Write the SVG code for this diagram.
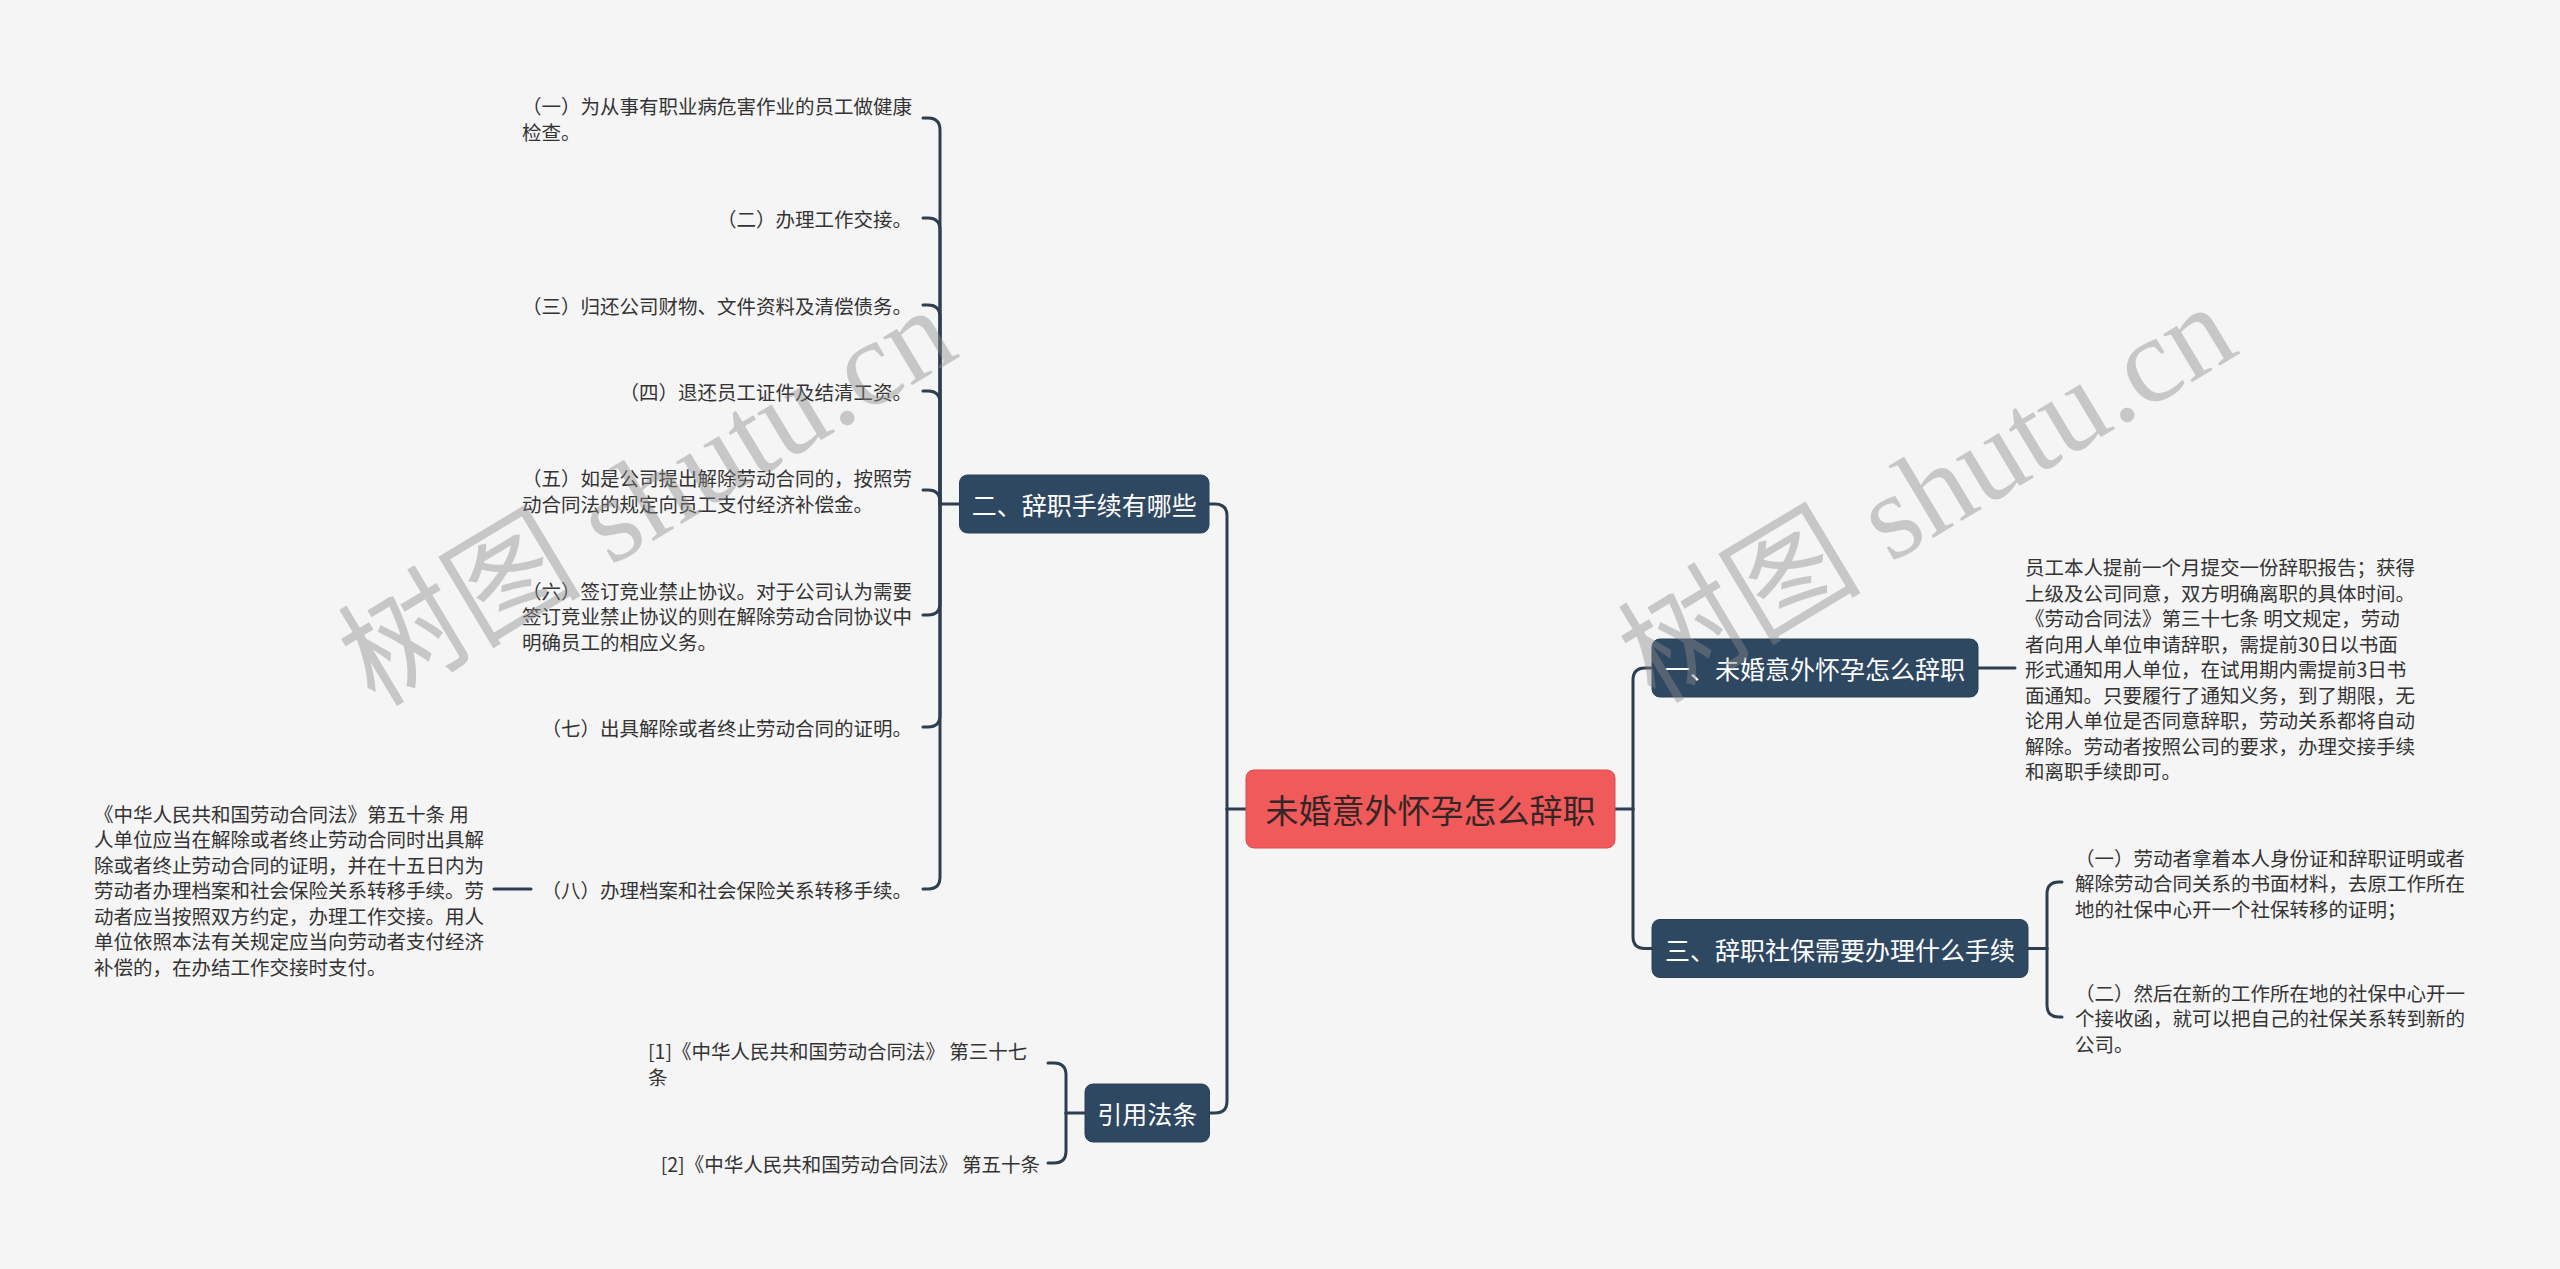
<svg xmlns="http://www.w3.org/2000/svg" width="2560" height="1269" viewBox="0 0 2560 1269">
<defs>
<style>
text{font-family:"Noto Sans CJK SC","Noto Sans",sans-serif;}
.conn{fill:none;stroke:#2c3e50;stroke-width:3;stroke-linecap:round;}
.box{fill:#2f4862;stroke:#2a4057;stroke-width:1;}
.ntext{fill:#ffffff;font-size:25px;text-anchor:middle;dominant-baseline:central;}
.leaf{fill:#333333;font-size:19.5px;dominant-baseline:central;}
.end{text-anchor:end;}
.wm{font-family:"Liberation Serif","Noto Sans CJK SC",serif;font-size:122px;fill:#8a8a8a;opacity:0.42;}
</style>
</defs>
<rect x="0" y="0" width="2560" height="1269" fill="#f5f5f5"/>

<g id="connectors">
<path class="conn" d="M1246,809 H1227"/>
<path class="conn" d="M1227,809 V516 Q1227,504 1215,504 H1209"/>
<path class="conn" d="M1227,809 V1101 Q1227,1113 1215,1113 H1209"/>
<path class="conn" d="M1615,809 H1633"/>
<path class="conn" d="M1633,809 V680 Q1633,668 1645,668 H1652"/>
<path class="conn" d="M1633,809 V936.5 Q1633,948.5 1645,948.5 H1652"/>
<path class="conn" d="M959.5,504 H940"/>
<path class="conn" d="M940,504 V130 Q940,118 928,118 H923"/>
<path class="conn" d="M940,504 V230 Q940,218 928,218 H923"/>
<path class="conn" d="M940,504 V317 Q940,305 928,305 H923"/>
<path class="conn" d="M940,504 V403 Q940,391 928,391 H923"/>
<path class="conn" d="M940,504 V502 Q940,490 928,490 H923"/>
<path class="conn" d="M940,504 V603 Q940,615 928,615 H923"/>
<path class="conn" d="M940,504 V715 Q940,727 928,727 H923"/>
<path class="conn" d="M940,504 V877 Q940,889 928,889 H923"/>
<path class="conn" d="M531,889 H494"/>
<path class="conn" d="M1085,1113 H1066"/>
<path class="conn" d="M1066,1113 V1075 Q1066,1063 1054,1063 H1048"/>
<path class="conn" d="M1066,1113 V1151 Q1066,1163 1054,1163 H1048"/>
<path class="conn" d="M1978,668 H2015"/>
<path class="conn" d="M2028,948.5 H2047"/>
<path class="conn" d="M2047,948.5 V894 Q2047,882 2059,882 H2062"/>
<path class="conn" d="M2047,948.5 V1005 Q2047,1017 2059,1017 H2062"/>
</g>

<g id="root">
<rect x="1246" y="770" width="369" height="78" rx="8" fill="#f05a5b" stroke="#dc4b4d" stroke-width="1"/>
<text x="1430.5" y="809" font-size="33" fill="#352626" text-anchor="middle" dominant-baseline="central">未婚意外怀孕怎么辞职</text>
</g>

<g id="n2">
<rect class="box" x="959.5" y="475" width="249.5" height="58" rx="8"/>
<text class="ntext" x="1084.25" y="504">二、辞职手续有哪些</text>
</g>
<g id="n4">
<rect class="box" x="1085" y="1084" width="124.5" height="58" rx="8"/>
<text class="ntext" x="1147.25" y="1113">引用法条</text>
</g>
<g id="n1">
<rect class="box" x="1652" y="639" width="326" height="58" rx="8"/>
<text class="ntext" x="1815" y="668">一、未婚意外怀孕怎么辞职</text>
</g>
<g id="n3">
<rect class="box" x="1652" y="919.5" width="376" height="58" rx="8"/>
<text class="ntext" x="1840" y="948.5">三、辞职社保需要办理什么手续</text>
</g>

<g id="n2-1"><text class="leaf" x="522"><tspan x="522" y="105.25">（一）为从事有职业病危害作业的员工做健康</tspan><tspan x="522" y="130.75">检查。</tspan></text></g>
<g id="n2-2"><text class="leaf end" x="912" y="218">（二）办理工作交接。</text></g>
<g id="n2-3"><text class="leaf end" x="912" y="305">（三）归还公司财物、文件资料及清偿债务。</text></g>
<g id="n2-4"><text class="leaf end" x="912" y="391">（四）退还员工证件及结清工资。</text></g>
<g id="n2-5"><text class="leaf" x="522"><tspan x="522" y="477.25">（五）如是公司提出解除劳动合同的，按照劳</tspan><tspan x="522" y="502.75">动合同法的规定向员工支付经济补偿金。</tspan></text></g>
<g id="n2-6"><text class="leaf" x="522"><tspan x="522" y="589.5">（六）签订竞业禁止协议。对于公司认为需要</tspan><tspan x="522" y="615">签订竞业禁止协议的则在解除劳动合同协议中</tspan><tspan x="522" y="640.5">明确员工的相应义务。</tspan></text></g>
<g id="n2-7"><text class="leaf end" x="912" y="727">（七）出具解除或者终止劳动合同的证明。</text></g>
<g id="n2-8"><text class="leaf end" x="912" y="889">（八）办理档案和社会保险关系转移手续。</text></g>
<g id="n2-8-1"><text class="leaf" x="94">
<tspan x="94" y="812.5">《中华人民共和国劳动合同法》第五十条 用</tspan>
<tspan x="94" y="838">人单位应当在解除或者终止劳动合同时出具解</tspan>
<tspan x="94" y="863.5">除或者终止劳动合同的证明，并在十五日内为</tspan>
<tspan x="94" y="889">劳动者办理档案和社会保险关系转移手续。劳</tspan>
<tspan x="94" y="914.5">动者应当按照双方约定，办理工作交接。用人</tspan>
<tspan x="94" y="940">单位依照本法有关规定应当向劳动者支付经济</tspan>
<tspan x="94" y="965.5">补偿的，在办结工作交接时支付。</tspan>
</text></g>

<g id="n4-1"><text class="leaf" x="648"><tspan x="648" y="1050.25">[1]《中华人民共和国劳动合同法》 第三十七</tspan><tspan x="648" y="1075.75">条</tspan></text></g>
<g id="n4-2"><text class="leaf end" x="1040" y="1163">[2]《中华人民共和国劳动合同法》 第五十条</text></g>

<g id="n1-1"><text class="leaf" x="2025">
<tspan x="2025" y="566">员工本人提前一个月提交一份辞职报告；获得</tspan>
<tspan x="2025" y="591.5">上级及公司同意，双方明确离职的具体时间。</tspan>
<tspan x="2025" y="617">《劳动合同法》第三十七条 明文规定，劳动</tspan>
<tspan x="2025" y="642.5">者向用人单位申请辞职，需提前30日以书面</tspan>
<tspan x="2025" y="668">形式通知用人单位，在试用期内需提前3日书</tspan>
<tspan x="2025" y="693.5">面通知。只要履行了通知义务，到了期限，无</tspan>
<tspan x="2025" y="719">论用人单位是否同意辞职，劳动关系都将自动</tspan>
<tspan x="2025" y="744.5">解除。劳动者按照公司的要求，办理交接手续</tspan>
<tspan x="2025" y="770">和离职手续即可。</tspan>
</text></g>

<g id="n3-1"><text class="leaf" x="2075"><tspan x="2075" y="856.5">（一）劳动者拿着本人身份证和辞职证明或者</tspan><tspan x="2075" y="882">解除劳动合同关系的书面材料，去原工作所在</tspan><tspan x="2075" y="907.5">地的社保中心开一个社保转移的证明；</tspan></text></g>
<g id="n3-2"><text class="leaf" x="2075"><tspan x="2075" y="991.5">（二）然后在新的工作所在地的社保中心开一</tspan><tspan x="2075" y="1017">个接收函，就可以把自己的社保关系转到新的</tspan><tspan x="2075" y="1042.5">公司。</tspan></text></g>

<g id="watermarks">
<text class="wm" transform="translate(375,708) rotate(-31)">树图 shutu.cn</text>
<text class="wm" transform="translate(1655,705) rotate(-31)">树图 shutu.cn</text>
</g>
</svg>
